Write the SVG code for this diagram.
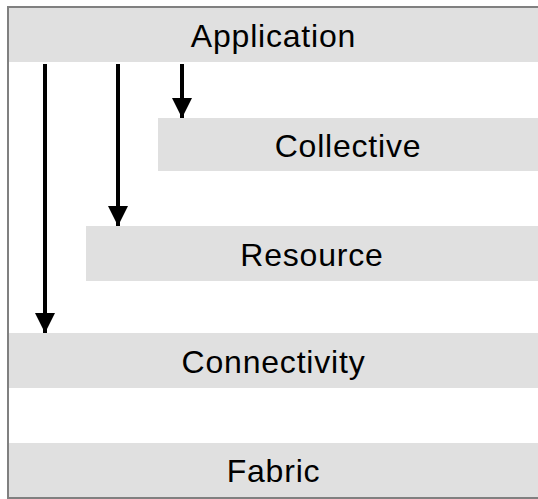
<svg xmlns="http://www.w3.org/2000/svg" width="538" height="499" viewBox="0 0 538 499">
<style>
.band{fill:#e0e0e0}
.lbl{font-family:"Liberation Sans",Arial,sans-serif;font-size:32px;letter-spacing:0.8px;fill:#000;text-anchor:middle}
.arr{stroke:#000;stroke-width:4;fill:none}
</style>
<defs>
<marker id="ah" markerUnits="userSpaceOnUse" markerWidth="22" markerHeight="20" refX="20" refY="10" orient="auto">
<path d="M0,0 L20,10 L0,20 Z" fill="#000"/>
</marker>
</defs>
<rect x="0" y="0" width="538" height="499" fill="#fff"/>
<path d="M8,499 L8,7 L538,7" fill="none" stroke="#808080" stroke-width="2"/>
<line x1="8" y1="498" x2="538" y2="498" stroke="#808080" stroke-width="2"/>
<g id="application"><rect class="band" x="9" y="8" width="529" height="54"/><text class="lbl" x="273.5" y="47">Application</text></g>
<g id="collective"><rect class="band" x="158" y="118" width="380" height="53"/><text class="lbl" x="348" y="156.5">Collective</text></g>
<g id="resource"><rect class="band" x="86" y="226" width="452" height="55"/><text class="lbl" x="312" y="265.5">Resource</text></g>
<g id="connectivity"><rect class="band" x="9" y="333" width="529" height="55"/><text class="lbl" x="273.5" y="372.5">Connectivity</text></g>
<g id="fabric"><rect class="band" x="9" y="443" width="529" height="54"/><text class="lbl" x="273.5" y="482">Fabric</text></g>
<g id="connectors">
<line class="arr" x1="45" y1="64" x2="45" y2="333" marker-end="url(#ah)"/>
<line class="arr" x1="118" y1="64" x2="118" y2="226" marker-end="url(#ah)"/>
<line class="arr" x1="182" y1="64" x2="182" y2="118" marker-end="url(#ah)"/>
</g>
</svg>
